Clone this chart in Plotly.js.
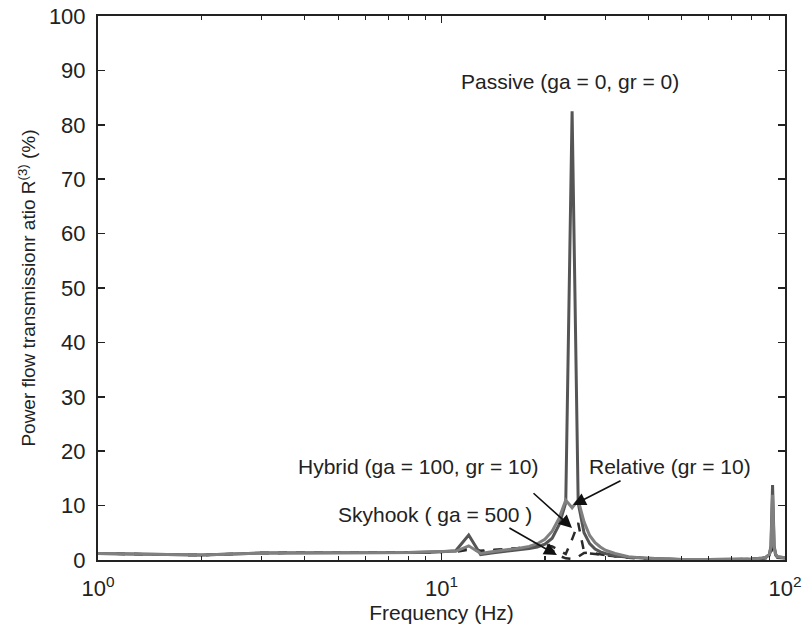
<!DOCTYPE html>
<html>
<head>
<meta charset="utf-8">
<script src="https://cdn.plot.ly/plotly-3.0.1.min.js"></script>
<style>html,body{margin:0;padding:0;background:#fff;}#chart{width:806px;height:637px;}</style>
</head>
<body>
<div id="chart"></div>
<script>
var freq     = [1, 2, 3, 4, 5, 6, 7, 8, 9, 10, 11, 12, 13, 14, 15, 16, 17, 18, 19, 20, 21, 22, 23, 24, 25, 26, 27, 28, 29, 30, 32, 35, 40, 45, 50, 60, 70, 80, 85, 88, 90, 91, 92, 93, 94, 95, 100];
var passive  = [1.2, 0.9, 1.3, 1.3, 1.3, 1.3, 1.4, 1.4, 1.4, 1.5, 1.7, 4.6, 1.0, 1.3, 1.5, 1.7, 1.9, 2.1, 2.4, 2.9, 4.0, 6.5, 10.5, 82.5, 10.5, 5.0, 3.0, 2.0, 1.5, 1.2, 0.8, 0.5, 0.3, 0.2, 0.1, 0.1, 0.1, 0.2, 0.3, 0.5, 1.0, 2.5, 13.8, 2.5, 1.0, 0.6, 0.4];
var relative = [1.2, 0.9, 1.3, 1.3, 1.3, 1.4, 1.4, 1.4, 1.5, 1.5, 1.6, 2.6, 1.2, 1.5, 1.8, 2.0, 2.2, 2.5, 3.0, 3.8, 5.3, 7.7, 11.0, 9.6, 11.0, 7.0, 4.5, 3.2, 2.4, 1.8, 1.2, 0.6, 0.3, 0.2, 0.1, 0.1, 0.1, 0.2, 0.3, 0.5, 1.0, 2.3, 12.0, 2.3, 1.0, 0.6, 0.4];
var hybrid   = [1.2, 0.9, 1.3, 1.3, 1.3, 1.3, 1.4, 1.4, 1.4, 1.5, 1.6, 2.2, 1.7, 1.8, 1.9, 2.0, 2.2, 2.4, 2.6, 2.8, 2.5, 1.8, 1.1, 3.8, 6.8, 1.5, 1.2, 1.1, 1.0, 0.8, 0.6, 0.4, 0.2, 0.1, 0.1, 0.1, 0.1, 0.2, 0.3, 0.4, 0.8, 1.8, 6.0, 1.8, 0.8, 0.5, 0.3];
var skyhook  = [1.2, 0.9, 1.3, 1.3, 1.3, 1.3, 1.4, 1.4, 1.4, 1.5, 1.5, 1.9, 1.6, 1.8, 1.9, 2.0, 2.2, 2.4, 2.6, 2.7, 1.8, 0.8, 0.3, 0.2, 0.6, 1.3, 1.4, 1.2, 1.0, 0.9, 0.7, 0.5, 0.3, 0.2, 0.1, 0.1, 0.1, 0.2, 0.2, 0.3, 0.6, 1.0, 2.5, 1.0, 0.6, 0.4, 0.3];
var xTickVals = [1, 10, 100];
var xTickText = ['10<sup>0</sup>', '10<sup>1</sup>', '10<sup>2</sup>'];
var xMinorVals = [2, 3, 4, 5, 6, 7, 8, 9, 20, 30, 40, 50, 60, 70, 80, 90];
var yTickVals = [0, 10, 20, 30, 40, 50, 60, 70, 80, 90, 100];

var traces = [
  {x: freq, y: skyhook, mode: 'lines', line: {color: '#2a2a2a', width: 2.5, dash: 'dash'}, name: 'Skyhook'},
  {x: freq, y: hybrid, mode: 'lines', line: {color: '#2a2a2a', width: 2.5, dash: 'dash'}, name: 'Hybrid'},
  {x: freq, y: passive, mode: 'lines', line: {color: '#555555', width: 3}, name: 'Passive'},
  {x: freq, y: relative, mode: 'lines', line: {color: '#808080', width: 3}, name: 'Relative'}
];

var fam = 'Liberation Sans, Arial, sans-serif';
var tickF = {family: fam, size: 22, color: '#222'};
var annF = {family: fam, size: 21, color: '#222'};
var arrowStyle = {showarrow: true, arrowhead: 2, arrowsize: 1.6, arrowwidth: 1.6, arrowcolor: '#111', text: '', xref: 'x', yref: 'y'};
function arrow(lx, y, ax, ay) { return Object.assign({x: lx, y: y, ax: ax, ay: ay}, arrowStyle); }

var layout = {
  width: 806, height: 637,
  margin: {l: 98, r: 21, t: 16, b: 77},
  paper_bgcolor: '#fff', plot_bgcolor: '#fff',
  showlegend: false,
  font: annF,
  xaxis: {
    type: 'log', range: [0, 2],
    tickvals: xTickVals, ticktext: xTickText,
    ticks: 'inside', ticklen: 7, tickwidth: 1.5, tickcolor: '#222',
    minor: {tickvals: xMinorVals, ticks: 'inside', ticklen: 4, tickwidth: 1.2, tickcolor: '#222'},
    showline: true, linecolor: '#222', linewidth: 2, mirror: 'ticks',
    showgrid: false, zeroline: false,
    tickfont: tickF, ticklabelstandoff: 8,
    title: {text: 'Frequency (Hz)', font: {family: fam, size: 21, color: '#222'}, standoff: 4}
  },
  yaxis: {
    range: [0, 100],
    tickvals: yTickVals,
    ticks: 'inside', ticklen: 7, tickwidth: 1.5, tickcolor: '#222',
    showline: true, linecolor: '#222', linewidth: 2, mirror: 'ticks',
    showgrid: false, zeroline: false,
    tickfont: tickF, ticklabelstandoff: 6,
    title: {text: 'Power flow transmissionr atio R<sup>(3)</sup> (%)', font: {family: fam, size: 19, color: '#222'}, standoff: 8}
  },
  annotations: [
    {x: 1.374, y: 87.9, xref: 'x', yref: 'y', text: 'Passive (ga = 0, gr = 0)', showarrow: false, font: annF},
    {x: 0.932, y: 17.1, xref: 'x', yref: 'y', text: 'Hybrid (ga = 100, gr = 10)', showarrow: false, font: annF},
    {x: 1.665, y: 17.1, xref: 'x', yref: 'y', text: 'Relative (gr = 10)', showarrow: false, font: annF},
    {x: 0.981, y: 8.3, xref: 'x', yref: 'y', text: 'Skyhook ( ga = 500 )', showarrow: false, font: annF},
    arrow(1.383, 10.1, 49, -25),
    arrow(1.380, 5.9, -40, -36),
    arrow(1.336, 0.9, -49, -28)
  ]
};

Plotly.newPlot('chart', traces, layout, {displayModeBar: false, staticPlot: true});
</script>
</body>
</html>
